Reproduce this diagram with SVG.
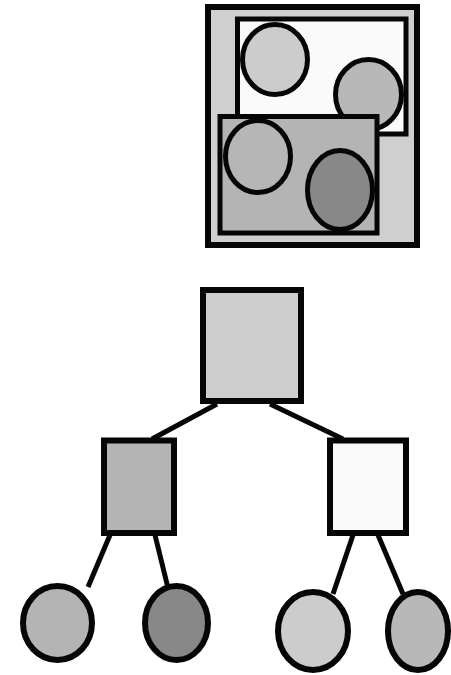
<svg xmlns="http://www.w3.org/2000/svg" width="451" height="675" viewBox="0 0 451 675">
<style>
.s{stroke:#060606;}
.c{stroke:#060606;stroke-width:5;fill:none;stroke-linecap:butt;}
</style>
<rect width="451" height="675" fill="#ffffff"/>
<g id="overview">
<rect class="s" x="208" y="7" width="209" height="238" fill="#cfcfcf" stroke-width="6"/>
<rect class="s" x="237.5" y="19" width="168.5" height="115" fill="#fafafa" stroke-width="5"/>
<ellipse class="s" cx="275" cy="59.5" rx="32.5" ry="35" fill="#cccccc" stroke-width="5"/>
<ellipse class="s" cx="368.5" cy="94.5" rx="33" ry="35" fill="#b8b8b8" stroke-width="5"/>
<rect class="s" x="220" y="116.5" width="157" height="116.5" fill="#b4b4b4" stroke-width="5"/>
<ellipse class="s" cx="258" cy="156.5" rx="32.5" ry="36" fill="#b6b6b6" stroke-width="5"/>
<ellipse class="s" cx="340" cy="190" rx="32.5" ry="39.5" fill="#888888" stroke-width="5"/>
</g>
<g id="connectors">
<line class="c" x1="217" y1="404" x2="152" y2="439"/>
<line class="c" x1="270" y1="404" x2="343" y2="439"/>
<line class="c" x1="110" y1="535" x2="88" y2="587"/>
<line class="c" x1="155" y1="535" x2="168" y2="588"/>
<line class="c" x1="353" y1="535" x2="333" y2="594"/>
<line class="c" x1="378" y1="535" x2="403" y2="594"/>
</g>
<g id="root"><rect class="s" x="203" y="290" width="98" height="111" fill="#cecece" stroke-width="6"/></g>
<g id="left"><rect class="s" x="104" y="440.5" width="70" height="92.5" fill="#b4b4b4" stroke-width="6"/></g>
<g id="right"><rect class="s" x="330" y="440.5" width="76" height="92.5" fill="#fafafa" stroke-width="6"/></g>
<g id="leaf1"><ellipse class="s" cx="57.5" cy="623" rx="34.5" ry="37" fill="#b4b4b4" stroke-width="6"/></g>
<g id="leaf2"><ellipse class="s" cx="176.5" cy="623" rx="31.5" ry="37" fill="#888888" stroke-width="6"/></g>
<g id="leaf3"><ellipse class="s" cx="313" cy="631" rx="35" ry="39" fill="#cccccc" stroke-width="6"/></g>
<g id="leaf4"><ellipse class="s" cx="418" cy="631" rx="30" ry="39" fill="#b8b8b8" stroke-width="6"/></g>
</svg>
